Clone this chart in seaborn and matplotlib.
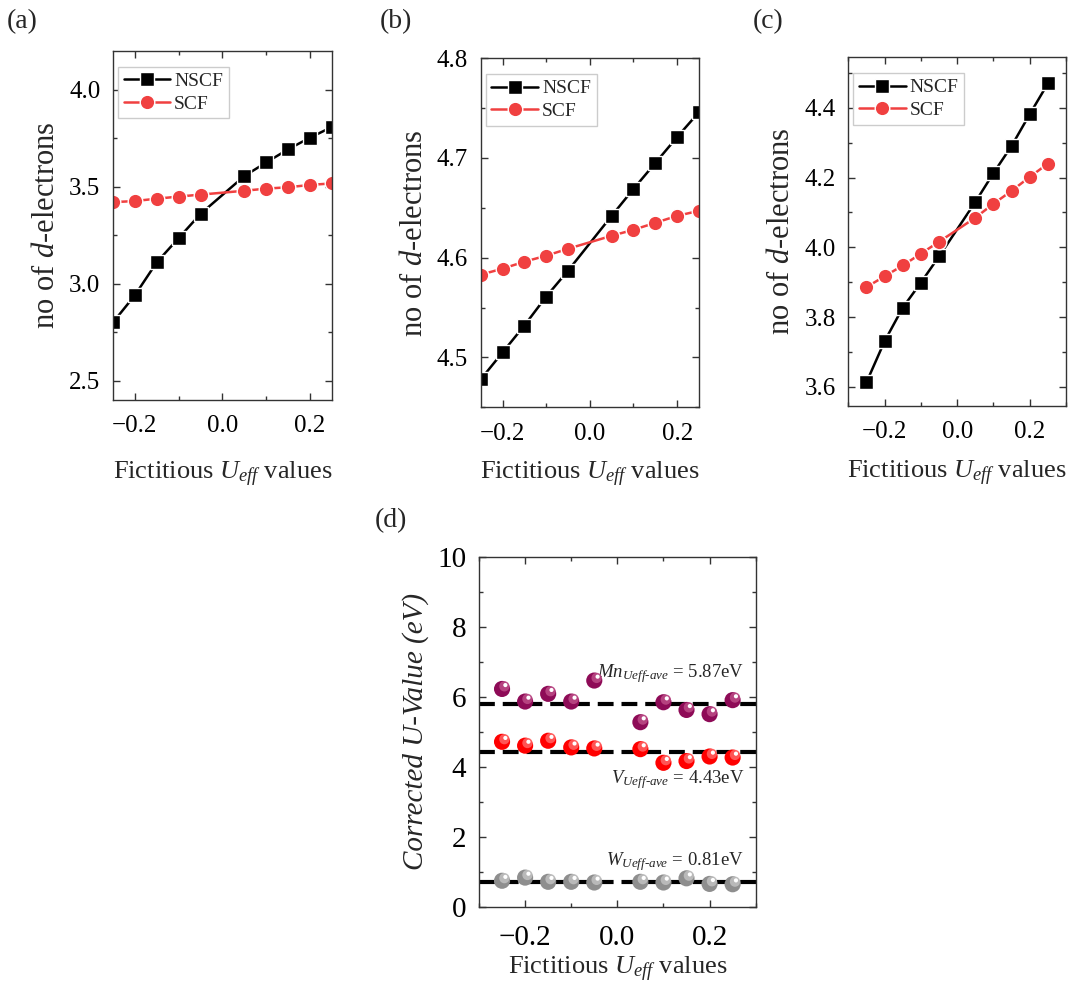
import numpy as np
import pandas as pd
import matplotlib
matplotlib.use("Agg")
import matplotlib.pyplot as plt
import matplotlib.transforms as mtransforms
from matplotlib.ticker import MultipleLocator, FormatStrFormatter
import seaborn as sns

# fictitious U values
u_eff = [-0.25, -0.2, -0.15, -0.1, -0.05, 0.05, 0.1, 0.15, 0.2, 0.25]

# (a)
a_nscf = [2.80, 2.94, 3.11, 3.235, 3.36, 3.555, 3.625, 3.693, 3.753, 3.808]
a_scf = [3.42, 3.426, 3.438, 3.449, 3.459, 3.479, 3.49, 3.497, 3.509, 3.517]
# (b)
b_nscf = [4.478, 4.505, 4.532, 4.561, 4.587, 4.642, 4.669, 4.695, 4.721, 4.746]
b_scf = [4.583, 4.589, 4.596, 4.602, 4.609, 4.622, 4.628, 4.635, 4.642, 4.647]
# (c)
c_nscf = [3.613, 3.731, 3.827, 3.899, 3.974, 4.130, 4.213, 4.291, 4.382, 4.470]
c_scf = [3.886, 3.917, 3.948, 3.982, 4.016, 4.085, 4.125, 4.162, 4.202, 4.240]

# (d) corrected U values
mn_u = [6.22, 5.86, 6.08, 5.86, 6.46, 5.27, 5.84, 5.62, 5.50, 5.90]
v_u = [4.71, 4.60, 4.74, 4.55, 4.52, 4.50, 4.11, 4.16, 4.29, 4.26]
w_u = [0.74, 0.83, 0.71, 0.71, 0.69, 0.71, 0.69, 0.81, 0.65, 0.64]
ave_lines = [5.80, 4.43, 0.70]
ave_labels = ["Mn", "V", "W"]
ave_values = ["5.87", "4.43", "0.81"]

sns.set_theme(style="ticks")
plt.rcParams["font.family"] = ["Liberation Serif", "DejaVu Serif"]
plt.rcParams["mathtext.fontset"] = "custom"
plt.rcParams["mathtext.rm"] = "Liberation Serif"
plt.rcParams["mathtext.it"] = "Liberation Serif:italic"
plt.rcParams["mathtext.bf"] = "Liberation Serif:bold"
plt.rcParams["axes.edgecolor"] = "#333333"
plt.rcParams["axes.linewidth"] = 1.0

fig = plt.figure(figsize=(10.8, 9.91), dpi=100)

black = "#000000"
red = "#F04040"


def style_axes(ax, tick_size, xpad=9):
    ax.tick_params(which="both", direction="in", top=True, right=True,
                   colors="#333333", labelcolor="black", labelsize=tick_size)
    ax.tick_params(which="major", length=5, width=1, pad=9)
    ax.tick_params(axis="x", which="major", pad=xpad)
    ax.tick_params(which="minor", length=3, width=1)


def d_panel(ax, nscf, scf, xlim, ylim, ymaj, ymin, xlabelpad):
    df = pd.DataFrame({"u": u_eff * 2, "n": nscf + scf,
                       "kind": ["NSCF"] * len(u_eff) + ["SCF"] * len(u_eff)})
    sns.lineplot(data=df[df.kind == "NSCF"], x="u", y="n", ax=ax, color=black,
                 marker="s", markersize=9.5, mec="white", mew=1.0, lw=1.8, label="NSCF")
    sns.lineplot(data=df[df.kind == "SCF"], x="u", y="n", ax=ax, color=red,
                 marker="o", markersize=10.5, mec="white", mew=1.0, lw=1.8, label="SCF")
    ax.set_xlim(*xlim)
    ax.set_ylim(*ylim)
    ax.xaxis.set_major_locator(MultipleLocator(0.2))
    ax.xaxis.set_minor_locator(MultipleLocator(0.1))
    ax.yaxis.set_major_locator(MultipleLocator(ymaj))
    ax.yaxis.set_minor_locator(MultipleLocator(ymin))
    ax.yaxis.set_major_formatter(FormatStrFormatter("%.1f"))
    style_axes(ax, 18, xpad=11)
    ax.set_xlabel(r"Fictitious $U_{eff}$ values", fontsize=19, labelpad=xlabelpad)
    ax.set_ylabel(r"no of $d$-electrons", fontsize=22, labelpad=6)
    leg = ax.legend(loc="upper left", bbox_to_anchor=(0.022, 0.955), fontsize=14,
                    handlelength=2.4, handletextpad=0.2, borderpad=0.3,
                    labelspacing=0.25, borderaxespad=0.0,
                    fancybox=False, edgecolor="#cccccc", framealpha=1)
    leg.get_frame().set_linewidth(1.0)


ax_a = fig.add_axes([0.1046, 0.5964, 0.2028, 0.3522])
d_panel(ax_a, a_nscf, a_scf, (-0.25, 0.25), (2.4, 4.2), 0.5, 0.25, 16)

ax_b = fig.add_axes([0.4451, 0.5890, 0.2021, 0.3522])
d_panel(ax_b, b_nscf, b_scf, (-0.25, 0.25), (4.45, 4.8), 0.1, 0.05, 11)

ax_c = fig.add_axes([0.7855, 0.5903, 0.2016, 0.3519])
d_panel(ax_c, c_nscf, c_scf, (-0.3, 0.3), (3.545, 4.545), 0.2, 0.1, 11)

# (d)
ax_d = fig.add_axes([0.4435, 0.0851, 0.2562, 0.3532])
sphere_cols = {"Mn": ("#8E0B57", "#C0508A"), "V": ("#FF0000", "#FF6A6A"), "W": ("#8E8E8E", "#C4C4C4")}
df_d = pd.DataFrame({"u": u_eff * 3, "U": mn_u + v_u + w_u,
                     "el": ["Mn"] * 10 + ["V"] * 10 + ["W"] * 10})

for yv in ave_lines:
    ax_d.plot([-0.3, 0.3], [yv, yv], color="black", lw=3, dashes=(3.8, 1.9), zorder=1)

sns.scatterplot(data=df_d, x="u", y="U", hue="el",
                palette={k: v[0] for k, v in sphere_cols.items()},
                s=135, edgecolor="none", legend=False, ax=ax_d, zorder=3)
# highlights to make the balls look shaded
off = mtransforms.offset_copy(ax_d.transData, fig=fig, x=1.7, y=1.9, units="points")
off2 = mtransforms.offset_copy(ax_d.transData, fig=fig, x=2.4, y=2.8, units="points")
for el, (c0, c1) in sphere_cols.items():
    sub = df_d[df_d.el == el]
    ax_d.scatter(sub.u, sub.U, s=55, color=c1, edgecolor="none", transform=off, zorder=4, alpha=0.8)
    ax_d.scatter(sub.u, sub.U, s=9, color="white", edgecolor="none", transform=off2, zorder=5)

ax_d.set_xlim(-0.3, 0.3)
ax_d.set_ylim(0, 10)
ax_d.xaxis.set_major_locator(MultipleLocator(0.2))
ax_d.xaxis.set_minor_locator(MultipleLocator(0.1))
ax_d.yaxis.set_major_locator(MultipleLocator(2))
ax_d.yaxis.set_minor_locator(MultipleLocator(1))
style_axes(ax_d, 21, xpad=13)
ax_d.set_xlabel(r"Fictitious $U_{eff}$ values", fontsize=19, labelpad=3)
ax_d.set_ylabel("Corrected U-Value (eV)", fontsize=21, style="italic", labelpad=6)

ann_pos = [(0.275, 6.65), (0.275, 3.62), (0.275, 1.3)]
for name, val, (tx, ty) in zip(ave_labels, ave_values, ann_pos):
    ax_d.text(tx, ty, r"$\mathit{%s}_{\mathit{Ueff\text{-}ave}}$ = %seV" % (name, val),
              fontsize=13.5, ha="right", va="center")

# panel letters
for lab, x, y in [("(a)", 0.0065, 0.978), ("(b)", 0.352, 0.978),
                  ("(c)", 0.697, 0.978), ("(d)", 0.347, 0.4743)]:
    fig.text(x, y, lab, fontsize=20, va="center", ha="left")

plt.savefig("out.png", dpi=100)
